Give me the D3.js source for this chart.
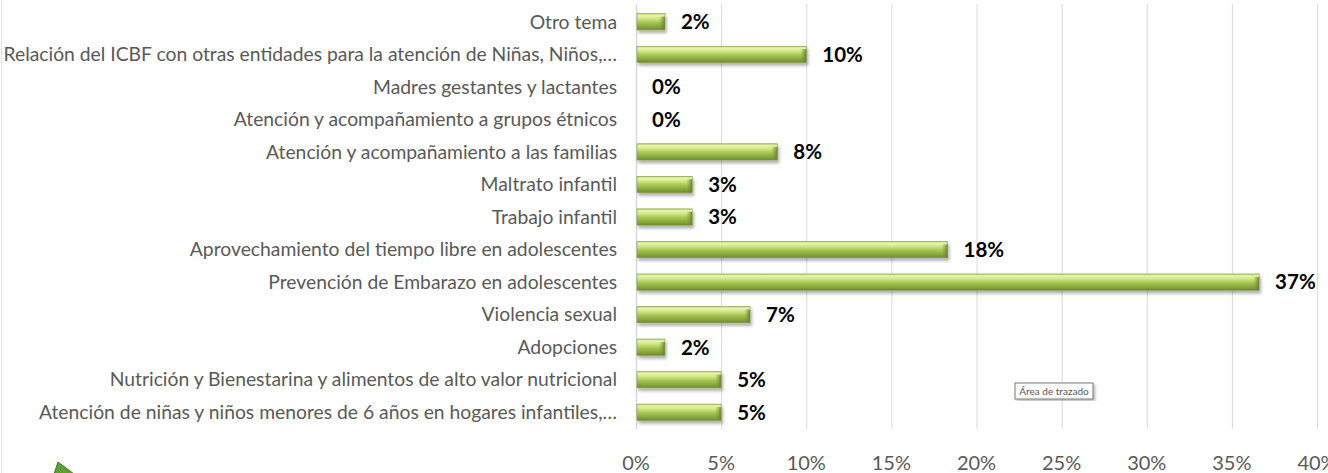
<!DOCTYPE html>
<html>
<head>
<meta charset="utf-8">
<script src="https://cdnjs.cloudflare.com/ajax/libs/d3/7.8.5/d3.min.js"></script>
<style>
  body { margin: 0; background: #fff; }
  #chart { width: 1328px; height: 473px; }
  text { font-family: Lato, "Liberation Sans", "DejaVu Sans", sans-serif; }
</style>
</head>
<body>
<div id="chart"></div>
<script>
// categories from top to bottom
const categories = [
  "Otro tema",
  "Relación del ICBF con otras entidades para la atención de Niñas, Niños,…",
  "Madres gestantes y lactantes",
  "Atención y acompañamiento a grupos étnicos",
  "Atención y acompañamiento a las familias",
  "Maltrato infantil",
  "Trabajo infantil",
  "Aprovechamiento del tiempo libre en adolescentes",
  "Prevención de Embarazo en adolescentes",
  "Violencia sexual",
  "Adopciones",
  "Nutrición y Bienestarina y alimentos de alto valor nutricional",
  "Atención de niñas y niños menores de 6 años en hogares infantiles,…"
];
const values = [0.017, 0.100, 0.0, 0.0, 0.083, 0.033, 0.033, 0.183, 0.366, 0.067, 0.017, 0.050, 0.050];
const valueLabels = ["2%", "10%", "0%", "0%", "8%", "3%", "3%", "18%", "37%", "7%", "2%", "5%", "5%"];
const ticks = [0, 0.05, 0.10, 0.15, 0.20, 0.25, 0.30, 0.35, 0.40];
const tickLabels = ["0%", "5%", "10%", "15%", "20%", "25%", "30%", "35%", "40%"];

const data = categories.map((c, i) => ({cat: c, v: values[i], label: valueLabels[i]}));

const W = 1328, H = 473;
const svg = d3.select("#chart").append("svg")
    .attr("width", W).attr("height", H);

const defs = svg.append("defs");
const grad = defs.append("linearGradient").attr("id", "barGrad")
    .attr("x1", 0).attr("y1", 0).attr("x2", 0).attr("y2", 1);
[["0%", "#bcd46e"], ["12%", "#e8f5ad"], ["30%", "#d2e686"], ["55%", "#a5c553"],
 ["80%", "#88a83c"], ["100%", "#6f8a32"]].forEach(s =>
    grad.append("stop").attr("offset", s[0]).attr("stop-color", s[1]));
const endGrad = defs.append("linearGradient").attr("id", "endGrad")
    .attr("x1", 0).attr("y1", 0).attr("x2", 1).attr("y2", 0);
endGrad.append("stop").attr("offset", "0%").attr("stop-color", "#7f9c3a").attr("stop-opacity", 0);
endGrad.append("stop").attr("offset", "100%").attr("stop-color", "#5f7a2a").attr("stop-opacity", 0.9);

const shadow = defs.append("filter").attr("id", "shadow")
    .attr("x", "-5%").attr("y", "-30%").attr("width", "115%").attr("height", "190%");
shadow.append("feDropShadow").attr("dx", 1.5).attr("dy", 3).attr("stdDeviation", 1.6)
    .attr("flood-color", "#000").attr("flood-opacity", 0.3);

const tipShadow = defs.append("filter").attr("id", "tipShadow");
tipShadow.append("feDropShadow").attr("dx", 2).attr("dy", 2).attr("stdDeviation", 1)
    .attr("flood-color", "#000").attr("flood-opacity", 0.25);

// left frame line
svg.append("line").attr("x1", 1.5).attr("x2", 1.5).attr("y1", 0).attr("y2", H)
    .attr("stroke", "#e3e3e3").attr("stroke-width", 1);

const x = d3.scaleLinear().domain([0, 0.40]).range([636, 1317]);
const y = d3.scaleBand().domain(categories).range([5.5, 428.5]).paddingInner(0.5).paddingOuter(0.25);

// gridlines
svg.append("g").selectAll("line").data(ticks.slice(1)).join("line")
    .attr("x1", d => x(d) + 0.5).attr("x2", d => x(d) + 0.5)
    .attr("y1", 4).attr("y2", 429)
    .attr("stroke", "#d9d9d9").attr("stroke-width", 1);

// x tick labels
svg.append("g").selectAll("text").data(ticks).join("text")
    .attr("x", d => x(d)).attr("y", 470)
    .attr("text-anchor", "middle")
    .attr("fill", "#595959").attr("font-size", 20)
    .text((d, i) => tickLabels[i]);

// y axis line
svg.append("line").attr("x1", x(0) + 0.5).attr("x2", x(0) + 0.5)
    .attr("y1", 4).attr("y2", 429).attr("stroke", "#d9d9d9").attr("stroke-width", 1.5);

// category labels, sized so the longest one fills the left side
const catText = svg.append("g").attr("font-size", 18).selectAll("text").data(data).join("text")
    .attr("x", 617).attr("y", d => y(d.cat) + y.bandwidth() / 2)
    .attr("dy", "0.35em").attr("text-anchor", "end")
    .attr("fill", "#595959")
    .text(d => d.cat);
let maxW = 0;
catText.each(function () { maxW = Math.max(maxW, this.getComputedTextLength()); });
if (maxW > 0) svg.select("g[font-size='18']").attr("font-size", 18 * 614 / maxW);

// bars
const bars = svg.append("g").selectAll("g").data(data.filter(d => d.v > 0)).join("g")
    .attr("filter", "url(#shadow)");
bars.append("rect")
    .attr("x", x(0) + 1).attr("y", d => y(d.cat))
    .attr("width", d => x(d.v) - x(0) - 1).attr("height", y.bandwidth())
    .attr("fill", "url(#barGrad)");
bars.append("rect")
    .attr("x", d => x(d.v) - 6).attr("y", d => y(d.cat) + 3)
    .attr("width", 6).attr("height", y.bandwidth() - 3)
    .attr("fill", "url(#endGrad)");
bars.append("rect")
    .attr("x", x(0) + 1).attr("y", d => y(d.cat))
    .attr("width", d => x(d.v) - x(0) - 1).attr("height", y.bandwidth())
    .attr("fill", "none").attr("stroke", "#7f9a43").attr("stroke-width", 0.6);

// value labels
svg.append("g").selectAll("text").data(data).join("text")
    .attr("x", d => x(d.v) + 16).attr("y", d => y(d.cat) + y.bandwidth() / 2)
    .attr("dy", "0.36em")
    .attr("fill", "#000").attr("font-size", 20.5).attr("font-weight", "bold")
    .text(d => d.label);

// "Área de trazado" tooltip
const tip = svg.append("g").attr("transform", "translate(1015,383)");
tip.append("rect").attr("width", 78).attr("height", 16)
    .attr("fill", "#fff").attr("stroke", "#767676").attr("stroke-width", 1)
    .attr("filter", "url(#tipShadow)");
tip.append("text").attr("x", 39).attr("y", 11.5).attr("text-anchor", "middle")
    .attr("font-size", 10).attr("fill", "#575757").text("Área de trazado");

// green arrow fragment at bottom left
svg.append("path")
    .attr("d", "M58,462 L82,480 L52,480 Z")
    .attr("fill", "#5f9e35").attr("stroke", "#3f7a22").attr("stroke-width", 1);
</script>
</body>
</html>
